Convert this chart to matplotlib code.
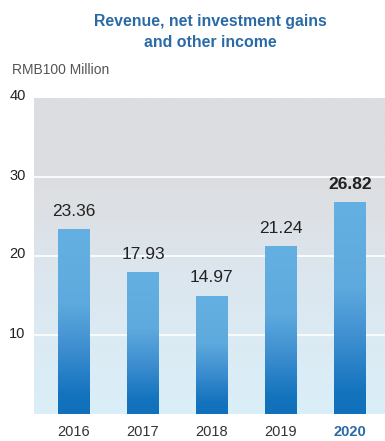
import matplotlib
matplotlib.use("Agg")
import matplotlib.pyplot as plt
import matplotlib.transforms as mtrans
from matplotlib.colors import LinearSegmentedColormap
import numpy as np

plt.rcParams['font.family'] = ['Liberation Sans', 'DejaVu Sans']

# data
years = ['2016', '2017', '2018', '2019', '2020']
values = [23.36, 17.93, 14.97, 21.24, 26.82]
yticks = [10, 20, 30, 40]
title = 'Revenue, net investment gains\nand other income'
unit = 'RMB100 Million'

blue_dark = '#2a6aa6'
bar_cmap = LinearSegmentedColormap.from_list(
    'bar', [(0, '#1070bb'), (0.1, '#1373bd'), (0.35, '#3d8ed0'),
            (0.6, '#5eaade'), (1, '#64b0e2')])
bg_cmap = LinearSegmentedColormap.from_list(
    'bg', [(0, '#daeff9'), (0.45, '#dce6ee'), (0.75, '#dcdde0'), (1, '#dcdde0')])

fig = plt.figure(figsize=(3.85, 4.41), dpi=100)
ax = fig.add_axes([34 / 385, 1 - 414 / 441, 351 / 385, 316 / 441])

x = np.arange(len(years))
ax.set_xlim(-0.58, 4.51)
ax.set_ylim(0, 40)

# background gradient
grad = np.linspace(0, 1, 256).reshape(-1, 1)
ax.imshow(grad, aspect='auto', cmap=bg_cmap, origin='lower',
          extent=[-0.58, 4.51, 0, 40], zorder=0)

for t in yticks[:-1]:
    ax.axhline(t, color='white', lw=1.2, zorder=1)

bars = ax.bar(x, values, width=0.46, color='none', zorder=2)
for b in bars:
    x0, y0 = b.get_x(), b.get_y()
    w, h = b.get_width(), b.get_height()
    im = ax.imshow(grad, aspect='auto', cmap=bar_cmap, origin='lower',
                   extent=[x0, x0 + w, y0, y0 + h], zorder=3)
    im.set_clip_path(b)

for i, v in enumerate(values):
    last = i == len(values) - 1
    ax.text(x[i], v + 1.3, f'{v:.2f}', ha='center', va='bottom',
            fontsize=12.5, color='#222222',
            fontweight='bold' if last else 'normal')

ax.set_xticks(x)
ax.set_xticklabels(years, fontsize=10.5, color='#333333')
ax.get_xticklabels()[-1].set_fontweight('bold')
ax.get_xticklabels()[-1].set_color(blue_dark)
ax.set_yticks(yticks)
ax.set_yticklabels([str(t) for t in yticks], fontsize=10.5, color='#222222')
ax.tick_params(length=0, pad=6)
ax.tick_params(axis='x', pad=8)
# nudge y labels up a little
shift = mtrans.ScaledTranslation(0, 3 / 100, fig.dpi_scale_trans)
for lab in ax.get_yticklabels():
    lab.set_transform(lab.get_transform() + shift)
for s in ax.spines.values():
    s.set_visible(False)

fig.text(210 / 385, 1 - 32 / 441, title, ha='center', va='center',
         fontsize=11.4, fontweight='bold', color=blue_dark, linespacing=1.45)
fig.text(12 / 385, 1 - 70 / 441, unit, ha='left', va='center',
         fontsize=10, color='#555555')

fig.savefig('out.png', dpi=100)
